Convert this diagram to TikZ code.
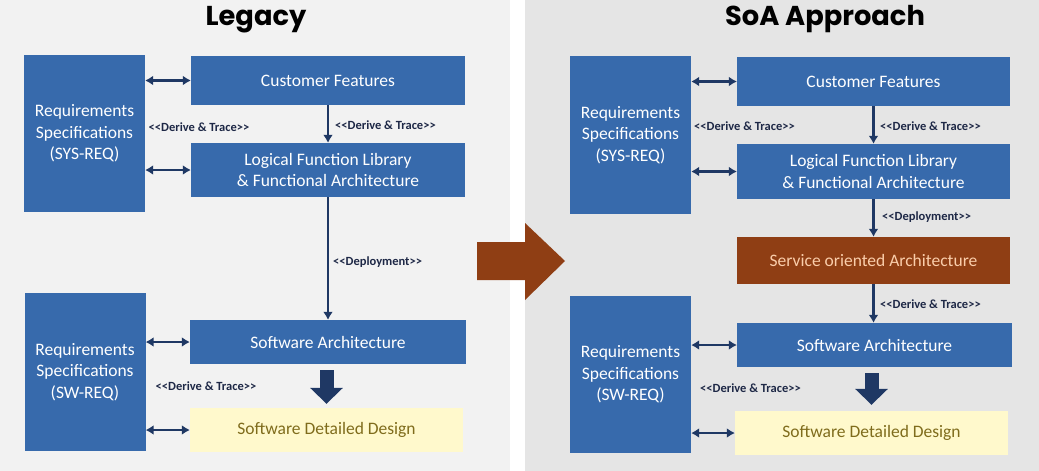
\documentclass[tikz,border=0pt]{standalone}
\usepackage{fontspec}
\setmainfont{Carlito}
\newfontfamily\titlefont{Poppins}
\usetikzlibrary{arrows.meta}
\definecolor{boxblue}{RGB}{55,106,172}
\definecolor{arrownavy}{RGB}{31,56,100}
\definecolor{lblnavy}{RGB}{30,40,70}
\definecolor{soabrown}{RGB}{143,62,20}
\definecolor{soatext}{RGB}{250,205,170}
\definecolor{paleyellow}{RGB}{255,249,204}
\definecolor{sddtext}{RGB}{127,108,28}
\definecolor{leftbg}{RGB}{242,242,242}
\definecolor{rightbg}{RGB}{229,229,229}
\newcommand{\dt}{<\kern0pt<Derive \& Trace>\kern0pt>}
\newcommand{\dep}{<\kern0pt<Deployment>\kern0pt>}
\begin{document}
\begin{tikzpicture}[x=1pt,y=-1pt,
	main/.style = {fill=boxblue, text=white, inner sep=0pt, align=center, font=\fontsize{17.5}{21.5}\selectfont},
	req/.style = {main, minimum width=121pt, minimum height=157pt},
	wide/.style = {main, minimum width=274pt, minimum height=49pt},
	lbl/.style = {text=lblnavy, inner sep=0pt, font=\bfseries\fontsize{12.5}{14}\selectfont},
	link/.style = {draw=arrownavy, line width=2.5pt, -{Latex[length=8pt,width=10pt]}},
	both/.style = {link, {Latex[length=8pt,width=10pt]}-{Latex[length=8pt,width=10pt]}},
	fat/.style = {draw=arrownavy, line width=14pt, -{Triangle[length=16pt,width=32pt]}},
	title/.style = {font=\titlefont\bfseries\fontsize{27.3}{32}\selectfont, anchor=base, inner sep=0pt}]
	\fill[white] (0,0) rectangle (1039,471);
	\useasboundingbox (0,0) rectangle (1039,471);
	\fill[leftbg] (0,0) rectangle (510,471);
	\fill[rightbg] (525,0) rectangle (1039,471);
	\fill[soabrown] (477,242) -- (525,242) -- (525,223) -- (565,261) -- (525,300) -- (525,280) -- (477,280) -- cycle;
	\node[title] (t1) at (256,25) {Legacy};
	\node[title] (t2) at (825,25) {SoA Approach};
	% legacy
	\node[req] (sys1) at (84.5,133.5) {Requirements\\Specifications\\(SYS-REQ)};
	\node[wide] (cf1) at (328,80.5) {Customer Features};
	\node[wide, minimum height=54pt] (lfl1) at (328,170) {Logical Function Library\\\& Functional Architecture};
	\node[wide, minimum width=276pt, minimum height=44pt] (sa1) at (328,342) {Software Architecture};
	\node[req, minimum height=158pt] (sw1) at (85,372) {Requirements\\Specifications\\(SW-REQ)};
	\node[wide, fill=paleyellow, text=sddtext, minimum width=273pt, minimum height=44pt] (sdd1) at (326.5,430) {Software Detailed Design};
	\node[lbl] (l1) at (199,127) {\dt};
	\node[lbl, anchor=west] (l2) at (335,125) {\dt};
	\node[lbl, anchor=west] (l3) at (333,262) {\dep};
	\node[lbl] (l4) at (206,386) {\dt};
	\draw[both] (sys1.east |- cf1.west) -- (cf1.west);
	\draw[both] (sys1.east |- lfl1.west) -- (lfl1.west);
	\draw[link] (cf1.south) -- (lfl1.north);
	\draw[link] (lfl1.south) -- (sa1.north);
	\draw[both] (sw1.east |- sa1.west) -- (sa1.west);
	\draw[both] (sw1.east |- sdd1.west) -- (sdd1.west);
	\draw[fat, shorten <=6pt, shorten >=4pt] (sdd1.north |- sa1.south) -- (sdd1.north);
	% soa
	\node[req, minimum height=158pt] (sys2) at (630.5,135) {Requirements\\Specifications\\(SYS-REQ)};
	\node[wide, minimum width=273pt] (cf2) at (873.5,81.5) {Customer Features};
	\node[wide, minimum width=273pt, minimum height=55pt] (lfl2) at (873.5,171.5) {Logical Function Library\\\& Functional Architecture};
	\node[wide, fill=soabrown, text=soatext, minimum width=273pt, minimum height=47pt] (soa) at (873.5,260.5) {Service oriented Architecture};
	\node[wide, minimum width=275pt, minimum height=44pt] (sa2) at (874.5,345) {Software Architecture};
	\node[req] (sw2) at (630.5,374.5) {Requirements\\Specifications\\(SW-REQ)};
	\node[wide, fill=paleyellow, text=sddtext, minimum width=273pt, minimum height=44pt] (sdd2) at (871.5,433) {Software Detailed Design};
	\node[lbl] (l5) at (744.5,126) {\dt};
	\node[lbl, anchor=west] (l6) at (880,126) {\dt};
	\node[lbl, anchor=west] (l7) at (882,217) {\dep};
	\node[lbl, anchor=west] (l8) at (880,304) {\dt};
	\node[lbl] (l9) at (750.5,388) {\dt};
	\draw[both] (sys2.east |- cf2.west) -- (cf2.west);
	\draw[both] (sys2.east |- lfl2.west) -- (lfl2.west);
	\draw[link] (cf2.south) -- (lfl2.north);
	\draw[link] (lfl2.south) -- (soa.north);
	\draw[link] (soa.south) -- (soa.south |- sa2.north);
	\draw[both] (sw2.east |- sa2.west) -- (sa2.west);
	\draw[both] (sw2.east |- sdd2.west) -- (sdd2.west);
	\draw[fat, shorten <=6pt, shorten >=6pt] (sdd2.north |- sa2.south) -- (sdd2.north);
\end{tikzpicture}
\end{document}
